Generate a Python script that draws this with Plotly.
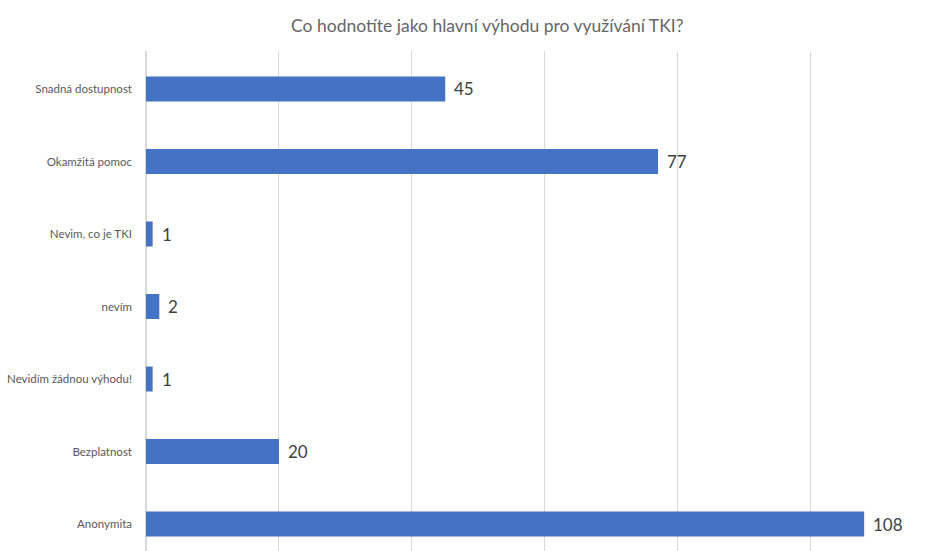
import plotly.graph_objects as go

# Survey answers, listed bottom-to-top as drawn on the category axis
categories = [
    "Anonymita",
    "Bezplatnost",
    "Nevidím žádnou výhodu!",
    "nevím",
    "Nevim, co je TKI",
    "Okamžitá pomoc",
    "Snadná dostupnost",
]
counts = [108, 20, 1, 2, 1, 77, 45]
title_text = "Co hodnotíte jako hlavní výhodu pro využívání TKI?"

FONT = "Lato, Carlito, Calibri, sans-serif"

fig = go.Figure(
    go.Bar(
        x=counts,
        y=categories,
        orientation="h",
        marker=dict(color="#4472C4", line=dict(width=0)),
        width=0.345,
        hoverinfo="x+y",
    )
)

# Value labels placed just right of each bar end
for cat, val in zip(categories, counts):
    fig.add_annotation(
        x=val,
        y=cat,
        text=str(val),
        showarrow=False,
        xanchor="left",
        yanchor="middle",
        xshift=7,
        font=dict(family=FONT, size=17, color="#404040"),
    )

fig.update_layout(
    width=930,
    height=551,
    margin=dict(l=146, r=0, t=51, b=0),
    paper_bgcolor="white",
    plot_bgcolor="white",
    showlegend=False,
    title=dict(
        text=title_text,
        x=0.524,
        xanchor="center",
        y=0.953,
        yanchor="middle",
        font=dict(family=FONT, size=17.5, color="#666666"),
    ),
    font=dict(family=FONT),
)

fig.update_xaxes(
    range=[0, 117.9],
    dtick=20,
    showgrid=True,
    gridcolor="#D9D9D9",
    gridwidth=1,
    zeroline=True,
    zerolinecolor="#D9D9D9",
    showticklabels=False,
    ticks="",
    showline=False,
)

fig.update_yaxes(
    type="category",
    categoryorder="array",
    categoryarray=categories,
    range=[-0.372, 6.524],
    showgrid=False,
    ticks="",
    ticklabelstandoff=13,
    tickfont=dict(family=FONT, size=11.5, color="#595959"),
    showline=False,
)

fig.write_html("out.html")
